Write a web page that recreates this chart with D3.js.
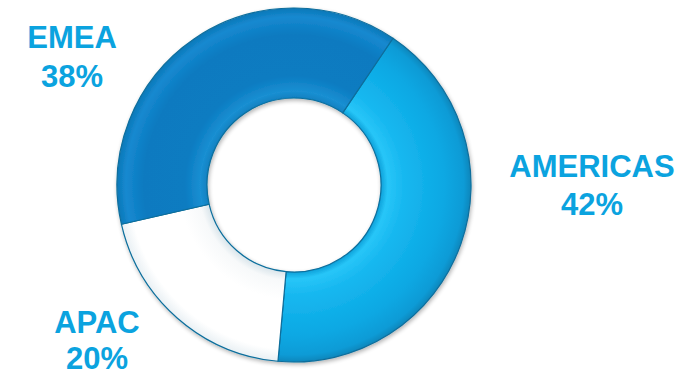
<!DOCTYPE html>
<html><head><meta charset="utf-8">
<script src="https://cdn.jsdelivr.net/npm/d3@7"></script>
<style>html,body{margin:0;padding:0;background:#fff;}svg{display:block;}</style>
</head><body>
<svg id="chart" width="698" height="373"></svg>
<script>
const categories = ["AMERICAS", "APAC", "EMEA"];
const values = [42, 20, 38];
const pctLabels = ["42%", "20%", "38%"];

const W = 698, H = 373;
const cx = 294, cy = 185, outerR = 177, innerR = 87;
const startAngle = 34 * Math.PI / 180;

const svg = d3.select("#chart");
const defs = svg.append("defs");

function radGrad(id, stops) {
  const g = defs.append("radialGradient").attr("id", id)
    .attr("gradientUnits", "userSpaceOnUse")
    .attr("cx", 0).attr("cy", 0).attr("r", outerR);
  stops.forEach(s => g.append("stop").attr("offset", s[0]).attr("stop-color", s[1]));
}
radGrad("gAm", [[0.49, "#0b9fd8"], [0.53, "#28c6f8"], [0.62, "#18b8f0"], [0.85, "#0aa8e3"], [0.96, "#0a9bd6"], [1, "#0a86bb"]]);
radGrad("gEm", [[0.49, "#0f80c0"], [0.53, "#1a8fd2"], [0.62, "#0a7bc1"], [0.85, "#0a7ac0"], [0.95, "#1689d0"], [1, "#0b78b8"]]);
radGrad("gAp", [[0.49, "#d8e4ea"], [0.54, "#f7f9fa"], [0.65, "#ffffff"], [0.93, "#ffffff"], [1, "#e9f0f4"]]);

const f = defs.append("filter").attr("id", "sh").attr("x", "-10%").attr("y", "-10%").attr("width", "120%").attr("height", "120%");
f.append("feGaussianBlur").attr("in", "SourceAlpha").attr("stdDeviation", 2).attr("result", "b");
f.append("feOffset").attr("in", "b").attr("dx", 1).attr("dy", 2).attr("result", "o");
f.append("feComponentTransfer").attr("in", "o").attr("result", "o2")
  .append("feFuncA").attr("type", "linear").attr("slope", 0.3);
const m = f.append("feMerge");
m.append("feMergeNode").attr("in", "o2");
m.append("feMergeNode").attr("in", "SourceGraphic");

const fills = { "AMERICAS": "url(#gAm)", "APAC": "url(#gAp)", "EMEA": "url(#gEm)" };

const data = categories.map((c, i) => ({ cat: c, value: values[i], pct: pctLabels[i] }));
const pie = d3.pie().sort(null).value(d => d.value)
  .startAngle(startAngle).endAngle(startAngle + 2 * Math.PI);
const arcs = pie(data);
const arc = d3.arc().innerRadius(innerR).outerRadius(outerR);

const g = svg.append("g").attr("transform", `translate(${cx},${cy})`).attr("filter", "url(#sh)");
g.selectAll("path.slice").data(arcs).join("path")
  .attr("class", "slice")
  .attr("d", arc)
  .attr("fill", d => fills[d.data.cat])
  .attr("stroke", "#0b6e9c").attr("stroke-width", 1.2).attr("stroke-linejoin", "round");

const labelPos = {
  "AMERICAS": [592, 177, 215],
  "APAC": [97, 333, 369],
  "EMEA": [72, 48, 87]
};
const lab = svg.append("g").attr("font-family", "'Liberation Sans', Arial, sans-serif")
  .attr("font-weight", "bold").attr("font-size", 31).attr("fill", "#0ba3df").attr("text-anchor", "middle");
data.forEach(d => {
  const p = labelPos[d.cat];
  lab.append("text").attr("x", p[0]).attr("y", p[1]).text(d.cat);
  lab.append("text").attr("x", p[0]).attr("y", p[2]).text(d.pct);
});
</script>
</body></html>
